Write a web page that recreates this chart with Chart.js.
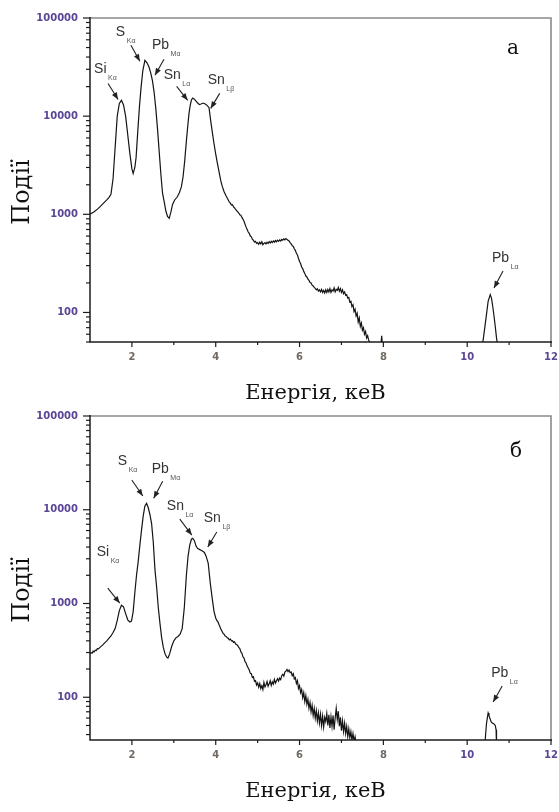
<!DOCTYPE html>
<html>
<head>
<meta charset="utf-8">
<script src="https://cdn.jsdelivr.net/npm/chart.js@4.4.1/dist/chart.umd.min.js"></script>
<style>
  html, body { margin: 0; padding: 0; background: #fff; }
  body { width: 559px; height: 812px; position: relative; overflow: hidden; }
  canvas { position: absolute; left: 0; }
  #specA { top: 0; }
  #specB { top: 406px; }
</style>
</head>
<body>
<canvas id="specA" width="559" height="406"></canvas>
<canvas id="specB" width="559" height="406"></canvas>
<script>
// Axis tick values
const energyTicks = [2, 4, 6, 8, 10, 12];
const energyMinorTicks = [3, 5, 7, 9, 11];
const countTicks = [100, 1000, 10000, 100000];

// Spectrum (а): energy, keV
const energyA = [
  1.00,1.10,1.20,1.30,1.40,1.45,1.50,1.55,1.60,1.65,
  1.70,1.75,1.80,1.85,1.90,1.95,2.00,2.03,2.07,2.10,
  2.14,2.18,2.22,2.26,2.31,2.36,2.41,2.45,2.49,2.53,
  2.57,2.61,2.65,2.69,2.73,2.77,2.81,2.85,2.89,2.93,
  2.97,3.02,3.08,3.13,3.18,3.22,3.26,3.30,3.33,3.36,
  3.39,3.42,3.45,3.49,3.53,3.57,3.61,3.65,3.70,3.75,
  3.80,3.84,3.88,3.92,3.96,4.00,4.04,4.08,4.12,4.16,
  4.20,4.24,4.28,
  4.300,4.325,4.350,4.375,4.400,4.425,4.450,4.475,4.500,4.525,
  4.550,4.575,4.600,4.625,4.650,4.675,4.700,4.725,4.750,4.775,
  4.800,4.825,4.850,4.875,4.900,4.925,4.950,4.975,5.000,5.025,
  5.050,5.075,5.100,5.125,5.150,5.175,5.200,5.225,5.250,5.275,
  5.300,5.325,5.350,5.375,5.400,5.425,5.450,5.475,5.500,5.525,
  5.550,5.575,5.600,5.625,5.650,5.675,5.700,5.725,5.750,5.775,
  5.800,5.825,5.850,5.875,5.900,5.925,5.950,5.975,6.000,6.025,
  6.050,6.075,6.100,6.125,6.150,6.175,6.200,6.225,6.250,6.275,
  6.300,6.325,6.350,6.375,6.400,6.425,6.450,6.475,6.500,6.525,
  6.550,6.575,6.600,6.625,6.650,6.675,6.700,6.725,6.750,6.775,
  6.800,6.825,6.850,6.875,6.900,6.925,6.950,6.975,7.000,7.025,
  7.050,7.075,7.100,7.125,7.150,7.175,7.200,7.225,7.250,7.275,
  7.300,7.325,7.350,7.375,7.400,7.425,7.450,7.475,7.500,7.525,
  7.550,7.575,7.600,7.625,7.650,7.675,7.700,
  7.725,7.94,7.96,7.98,8.00,
  10.35,10.38,10.42,10.46,10.50,10.55,10.58,10.61,10.64,10.67,10.70,10.73
];
// Spectrum (а): counts
const countsA = [
  1000,1060,1150,1270,1400,1480,1600,2300,4800,10000,
  13500,14500,13000,10000,6500,4200,2900,2600,3000,3800,
  7000,12500,20000,29000,37000,35000,31500,27500,23000,17500,
  12000,7500,4400,2600,1650,1350,1080,950,910,1050,
  1260,1400,1500,1650,1900,2400,3500,5600,7700,10500,
  12800,14600,15300,14900,14200,13600,13100,13300,13600,13300,
  12800,12200,9000,6800,5200,4100,3300,2700,2200,1900,
  1700,1560,1450,
  1400,1330,1300,1240,1250,1190,1160,1120,1090,1060,
  1030,990,980,930,890,850,790,740,700,660,
  640,600,590,555,545,520,530,505,515,495,
  520,500,525,490,505,515,498,520,505,528,
  510,530,515,535,520,540,525,545,530,548,
  535,555,545,562,550,565,555,545,535,515,
  500,480,470,445,430,400,385,355,330,315,
  290,280,262,250,235,230,218,212,202,200,
  190,186,180,176,170,174,165,170,162,172,
  160,168,158,170,160,172,162,175,160,170,
  165,178,162,172,168,180,165,175,160,170,
  155,162,150,152,140,142,128,130,115,120,
  102,108,92,98,80,88,72,78,66,70,
  60,64,55,58,52,50,47,
  null,45,58,45,null,
  45,52,70,95,130,152,140,115,92,72,55,45
];

// Spectrum (б): energy, keV
const energyB = [
  1.000,1.025,1.050,1.075,1.100,1.125,1.150,1.175,1.200,
  1.250,1.300,1.350,1.400,1.450,1.500,1.550,1.600,1.650,1.700,1.750,1.800,1.850,1.900,1.950,
  1.990,2.030,2.070,2.110,2.150,2.190,2.230,2.270,2.310,2.350,2.390,2.430,2.470,2.510,2.550,2.590,2.630,2.670,2.710,2.750,2.790,2.830,
  2.860,2.900,2.950,3.000,3.050,3.100,3.150,3.200,3.250,3.300,
  3.340,3.380,3.420,3.450,3.490,3.530,3.570,3.610,3.650,3.690,3.730,3.770,3.820,3.870,3.920,3.960,4.000,
  4.025,4.050,4.075,4.100,4.125,4.150,4.175,4.200,4.225,4.250,
  4.275,4.300,4.325,4.350,4.375,4.400,4.425,4.450,4.475,4.500,
  4.525,4.550,4.575,4.600,4.625,4.650,4.675,4.700,4.725,4.750,
  4.775,4.800,4.825,4.850,4.875,4.900,4.925,4.950,4.975,5.000,
  5.025,5.050,5.075,5.100,5.125,5.150,5.175,5.200,5.225,5.250,
  5.275,5.300,5.325,5.350,5.375,5.400,5.425,5.450,5.475,5.500,
  5.525,5.550,5.575,5.600,5.625,5.650,5.675,5.700,5.725,5.750,
  5.775,5.800,5.825,5.850,5.875,5.900,5.925,5.950,5.975,6.000,
  6.025,6.050,6.075,6.100,6.125,6.150,6.175,6.200,6.225,6.250,
  6.275,6.300,6.325,6.350,6.375,6.400,6.425,6.450,6.475,6.500,
  6.525,6.550,6.575,6.600,6.625,6.650,6.675,6.700,6.725,6.750,
  6.775,6.800,6.825,6.850,6.875,6.900,6.925,6.950,6.975,7.000,
  7.025,7.050,7.075,7.100,7.125,7.150,7.175,7.200,7.225,7.250,
  7.275,7.300,7.325,7.350,
  7.375,
  10.42,10.44,10.46,10.48,10.50,10.52,10.54,10.57,10.60,10.64,10.67,10.69,10.70
];
// Spectrum (б): counts
const countsB = [
  290,300,295,310,305,318,315,330,328,
  345,360,380,400,425,450,490,540,660,840,960,920,780,670,635,
  650,820,1300,2000,2800,4200,6100,8600,11000,11700,10500,8900,7100,4500,2300,1500,900,610,430,340,290,268,
  262,290,350,400,430,445,470,540,900,2000,
  3200,4200,4850,4960,4700,4100,3850,3780,3700,3600,3500,3200,2700,1650,1100,820,700,
  660,640,600,565,530,505,480,470,450,445,
  430,425,410,418,400,402,385,390,370,365,
  355,340,330,305,295,270,262,240,232,215,
  205,195,180,178,162,165,148,150,135,142,
  128,140,124,133,121,144,129,136,147,131,
  139,150,134,146,138,155,142,150,158,149,
  160,154,170,176,168,186,190,198,188,195,
  183,186,170,178,157,162,140,150,124,133,
  112,121,99,112,90,104,84,95,76,88,
  70,82,64,76,60,72,56,68,53,66,
  50,63,48,61,55,67,50,65,47,62,
  49,64,45,60,76,58,71,49,61,44,
  56,43,53,41,49,38,46,37,43,35,
  41,34,38,32,
  null,
  30,40,52,60,68,64,60,55,53,52,50,45,30
];

// Peak labels: anchored at the arrow tip (energy, counts)
const peakNotesA = [
  { main: 'Si', sub: 'Kα', energy: 1.67,  counts: 14800, tail: [-10, -16], text: [-24, -30] },
  { main: 'S',  sub: 'Kα', energy: 2.19,  counts: 36300, tail: [-9, -16],  text: [-24, -29] },
  { main: 'Pb', sub: 'Mα', energy: 2.55,  counts: 26100, tail: [9, -16],   text: [-3, -30] },
  { main: 'Sn', sub: 'Lα', energy: 3.33,  counts: 14500, tail: [-11, -14], text: [-24, -25] },
  { main: 'Sn', sub: 'Lβ', energy: 3.88,  counts: 12000, tail: [9, -15],   text: [-3, -28] },
  { main: 'Pb', sub: 'Lα', energy: 10.64, counts: 177,   tail: [9, -17],   text: [-2, -30] }
];
const peakNotesB = [
  { main: 'S',  sub: 'Kα', energy: 2.26,  counts: 14000, tail: [-11, -16], text: [-25, -35] },
  { main: 'Pb', sub: 'Mα', energy: 2.52,  counts: 13300, tail: [9, -17],   text: [-2, -29] },
  { main: 'Sn', sub: 'Lα', energy: 3.43,  counts: 5370,  tail: [-12, -16], text: [-25, -29] },
  { main: 'Sn', sub: 'Lβ', energy: 3.81,  counts: 4000,  tail: [9, -15],   text: [-4, -29] },
  { main: 'Si', sub: 'Kα', energy: 1.71,  counts: 1010,  tail: [-12, -15], text: [-23, -51] },
  { main: 'Pb', sub: 'Lα', energy: 10.62, counts: 89,    tail: [9, -16],   text: [-2, -29] }
];

const toPoints = (xs, ys) => xs.map((e, i) => ({ x: e, y: ys[i] }));

function strokeLine(ctx, x0, y0, x1, y1) {
  ctx.beginPath(); ctx.moveTo(x0, y0); ctx.lineTo(x1, y1); ctx.stroke();
}

function drawArrow(ctx, x0, y0, x1, y1) {
  strokeLine(ctx, x0, y0, x1, y1);
  const ang = Math.atan2(y1 - y0, x1 - x0), L = 7, W = 2.8;
  const bx = x1 - L * Math.cos(ang), by = y1 - L * Math.sin(ang);
  ctx.beginPath();
  ctx.moveTo(x1, y1);
  ctx.lineTo(bx + W * Math.sin(ang), by - W * Math.cos(ang));
  ctx.lineTo(bx - W * Math.sin(ang), by + W * Math.cos(ang));
  ctx.closePath();
  ctx.fill();
}

// Frame, tick marks, axis titles, peak labels and panel letter
const spectrumDecor = {
  id: 'spectrumDecor',
  afterDatasetsDraw(chart, _args, opts) {
    const { ctx, chartArea: a, scales: { x, y } } = chart;
    ctx.save();

    // grey frame on top and right
    ctx.lineWidth = 1.6;
    ctx.strokeStyle = '#8a8a8a';
    ctx.beginPath();
    ctx.moveTo(a.left, a.top); ctx.lineTo(a.right, a.top); ctx.lineTo(a.right, a.bottom);
    ctx.stroke();

    // axis lines
    ctx.strokeStyle = '#1c1c1c';
    ctx.lineWidth = 1.5;
    ctx.beginPath();
    ctx.moveTo(a.left, a.top - 1); ctx.lineTo(a.left, a.bottom); ctx.lineTo(a.right + 1, a.bottom);
    ctx.stroke();

    // x tick marks
    ctx.lineWidth = 1.2;
    energyTicks.forEach(v => { const p = x.getPixelForValue(v); strokeLine(ctx, p, a.bottom, p, a.bottom + 5); });
    energyMinorTicks.forEach(v => { const p = x.getPixelForValue(v); strokeLine(ctx, p, a.bottom, p, a.bottom + 3); });

    // y tick marks, major and minor
    const lo = y.min, hi = y.max;
    countTicks.forEach(v => { const p = y.getPixelForValue(v); strokeLine(ctx, a.left - 7, p, a.left, p); });
    for (let d = 10; d < hi; d *= 10) {
      for (let m = 2; m <= 9; m++) {
        const v = m * d;
        if (v < lo || v > hi) continue;
        const p = y.getPixelForValue(v);
        strokeLine(ctx, a.left - 4, p, a.left, p);
      }
    }

    // axis titles
    ctx.fillStyle = '#111';
    ctx.font = '21px "DejaVu Serif"';
    ctx.textAlign = 'center';
    ctx.textBaseline = 'middle';
    ctx.fillText('Енергія, кеВ', (a.left + a.right) / 2 - 5, a.bottom + 52);
    ctx.save();
    ctx.translate(23, (a.top + a.bottom) / 2 + 12);
    ctx.rotate(-Math.PI / 2);
    ctx.font = '24px "DejaVu Serif"';
    ctx.fillText('Події', 0, 0);
    ctx.restore();

    // panel letter
    ctx.font = '20px "DejaVu Serif"';
    ctx.fillText(opts.panelMark, a.right + opts.markOffset[0], a.top + opts.markOffset[1]);

    // peak labels with arrows
    ctx.strokeStyle = '#222';
    ctx.lineWidth = 1.1;
    opts.notes.forEach(n => {
      const tx = x.getPixelForValue(n.energy), ty = y.getPixelForValue(n.counts);
      ctx.fillStyle = '#222';
      drawArrow(ctx, tx + n.tail[0], ty + n.tail[1], tx, ty);
      ctx.textAlign = 'left';
      ctx.textBaseline = 'middle';
      ctx.fillStyle = '#333';
      ctx.font = '14px "Liberation Sans"';
      const lx = tx + n.text[0], ly = ty + n.text[1];
      ctx.fillText(n.main, lx, ly);
      const w = ctx.measureText(n.main).width;
      ctx.fillStyle = '#555';
      ctx.font = '7px "Liberation Sans"';
      ctx.fillText(n.sub, lx + w + 1.5, ly + 9);
    });

    ctx.restore();
  }
};

const tickFont = { family: 'DejaVu Sans', size: 10, weight: 'bold' };

function buildSpectrum(canvasId, energy, counts, yFloor, notes, panelMark, markOffset, pad) {
  return new Chart(document.getElementById(canvasId), {
    type: 'line',
    data: {
      datasets: [{
        data: toPoints(energy, counts),
        borderColor: '#141414',
        borderWidth: 1.2,
        pointRadius: 0,
        tension: 0,
        spanGaps: false,
        fill: false
      }]
    },
    options: {
      responsive: false,
      animation: false,
      devicePixelRatio: 1,
      layout: { padding: pad },
      plugins: {
        legend: { display: false },
        tooltip: { enabled: false },
        spectrumDecor: { notes, panelMark, markOffset }
      },
      scales: {
        x: {
          type: 'linear', min: 1, max: 12,
          grid: { display: false, drawTicks: false },
          border: { display: false },
          afterBuildTicks: s => { s.ticks = energyTicks.map(v => ({ value: v })); },
          afterFit: s => { s.height = 30; s.paddingLeft = 0; s.paddingRight = 0; },
          ticks: {
            padding: 9,
            autoSkip: false,
            maxRotation: 0,
            font: tickFont,
            color: c => (c.tick && c.tick.value >= 10 ? '#5b4596' : '#6f6962'),
            callback: v => String(v)
          }
        },
        y: {
          type: 'logarithmic', min: yFloor, max: 100000,
          grid: { display: false, drawTicks: false },
          border: { display: false },
          afterBuildTicks: s => { s.ticks = countTicks.map(v => ({ value: v })); },
          afterFit: s => { s.width = 90; s.paddingTop = 0; s.paddingBottom = 0; },
          ticks: {
            padding: 12,
            autoSkip: false,
            font: tickFont,
            color: '#5b4596',
            callback: v => String(v)
          }
        }
      }
    },
    plugins: [spectrumDecor]
  });
}

buildSpectrum('specA', energyA, countsA, 50, peakNotesA, 'а', [-38, 31],
  { top: 18, right: 8, bottom: 34, left: 0 });
buildSpectrum('specB', energyB, countsB, 35, peakNotesB, 'б', [-35, 36],
  { top: 10, right: 8, bottom: 42, left: 0 });
</script>
</body>
</html>
